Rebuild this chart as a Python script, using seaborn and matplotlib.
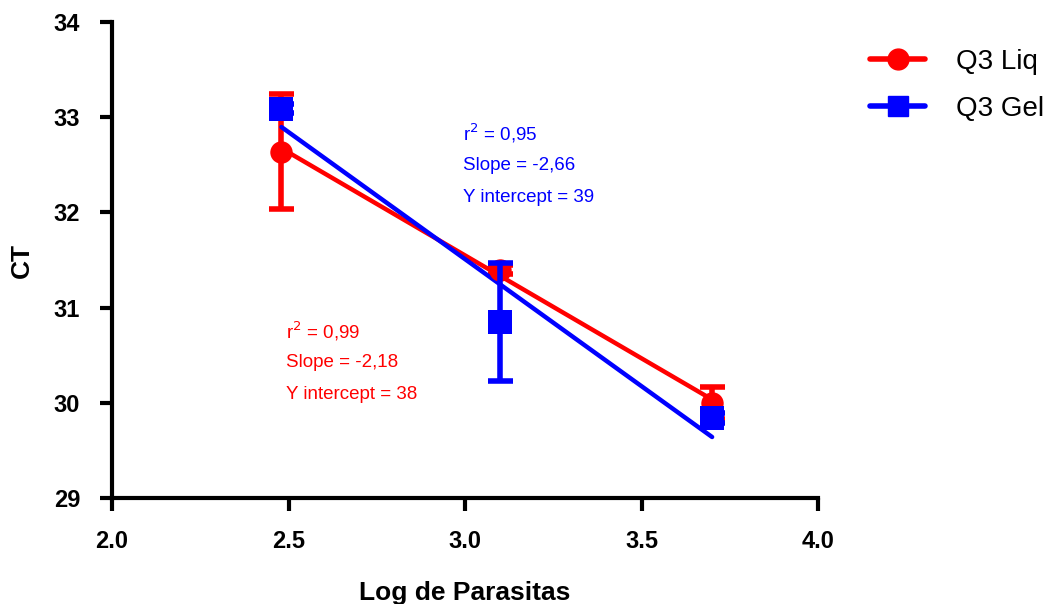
import numpy as np
import pandas as pd
import matplotlib
matplotlib.use("Agg")
import matplotlib.pyplot as plt
import seaborn as sns
from matplotlib.lines import Line2D

# data
log_parasitas = [2.48, 3.10, 3.70]
liq_mean = [32.64, 31.40, 30.00]
liq_sd = [0.60, 0.05, 0.17]
gel_mean = [33.09, 30.85, 29.84]
gel_sd = [0.05, 0.62, 0.05]
series_names = ["Q3 Liq", "Q3 Gel"]
series_colors = ["#FF0000", "#0000FF"]
liq_text = ["r$^2$ = 0,99", "Slope = -2,18", "Y intercept = 38"]
gel_text = ["r$^2$ = 0,95", "Slope = -2,66", "Y intercept = 39"]
x_ticks = [2.0, 2.5, 3.0, 3.5, 4.0]
y_ticks = [29, 30, 31, 32, 33, 34]

sns.set_style("ticks")
plt.rcParams['font.family'] = ['Liberation Sans', 'DejaVu Sans']
plt.rcParams['text.color'] = 'black'
plt.rcParams['axes.labelcolor'] = 'black'

df = pd.DataFrame({
    "x": log_parasitas * 2,
    "y": liq_mean + gel_mean,
    "sd": liq_sd + gel_sd,
    "serie": [series_names[0]] * 3 + [series_names[1]] * 3,
})

fig = plt.figure(figsize=(10.6, 6.04), dpi=100)
ax = fig.add_axes([0.1057, 0.1755, 0.666, 0.788])

markers = ["o", "s"]
for i, name in enumerate(series_names):
    sub = df[df["serie"] == name]
    c = series_colors[i]
    sns.regplot(data=sub, x="x", y="y", ax=ax, scatter=False, ci=None,
                truncate=True, color=c, line_kws=dict(lw=3.2, zorder=2 + i))
    ax.errorbar(sub["x"], sub["y"], yerr=sub["sd"], fmt="none", ecolor=c,
                elinewidth=4, capsize=9, capthick=4, zorder=3 + i)
    sns.scatterplot(data=sub, x="x", y="y", ax=ax, color=c, marker=markers[i],
                    s=260 if i == 0 else 300, edgecolor=c, linewidth=0,
                    zorder=4 + i, legend=False)

ax.set_xlim(2.0, 4.0)
ax.set_ylim(29, 34)
ax.set_xticks(x_ticks)
ax.set_xticklabels([f"{t:.1f}" for t in x_ticks])
ax.set_yticks(y_ticks)
ax.set_yticklabels([str(t) for t in y_ticks])
for lab in ax.get_xticklabels() + ax.get_yticklabels():
    lab.set_fontweight("bold")
    lab.set_fontsize(17)
ax.tick_params(axis="x", length=9, width=3, direction="out", pad=14, colors="black")
ax.tick_params(axis="y", length=9, width=3, direction="out", pad=14, colors="black")
sns.despine(ax=ax)
for sp in ["left", "bottom"]:
    ax.spines[sp].set_linewidth(3)
    ax.spines[sp].set_color("black")

ax.set_xlabel("Log de Parasitas", fontsize=19, fontweight="bold", labelpad=20)
ax.set_ylabel("CT", fontsize=19, fontweight="bold", labelpad=14)

for k, t in enumerate(gel_text):
    ax.text(2.994, 32.83 - k * 0.335, t, color=series_colors[1], fontsize=13.5,
            va="center", ha="left")
for k, t in enumerate(liq_text):
    ax.text(2.493, 30.75 - k * 0.33, t, color=series_colors[0], fontsize=13.5,
            va="center", ha="left")

handles = [
    Line2D([0], [0], color=series_colors[0], lw=4, marker="o", markersize=15),
    Line2D([0], [0], color=series_colors[1], lw=4, marker="s", markersize=15),
]
fig.legend(handles, series_names, loc="upper left", bbox_to_anchor=(0.797, 0.96),
           frameon=False, fontsize=20, handlelength=2.0, labelspacing=0.75,
           handletextpad=1.1, labelcolor="black")

fig.savefig("out.png", dpi=100)
